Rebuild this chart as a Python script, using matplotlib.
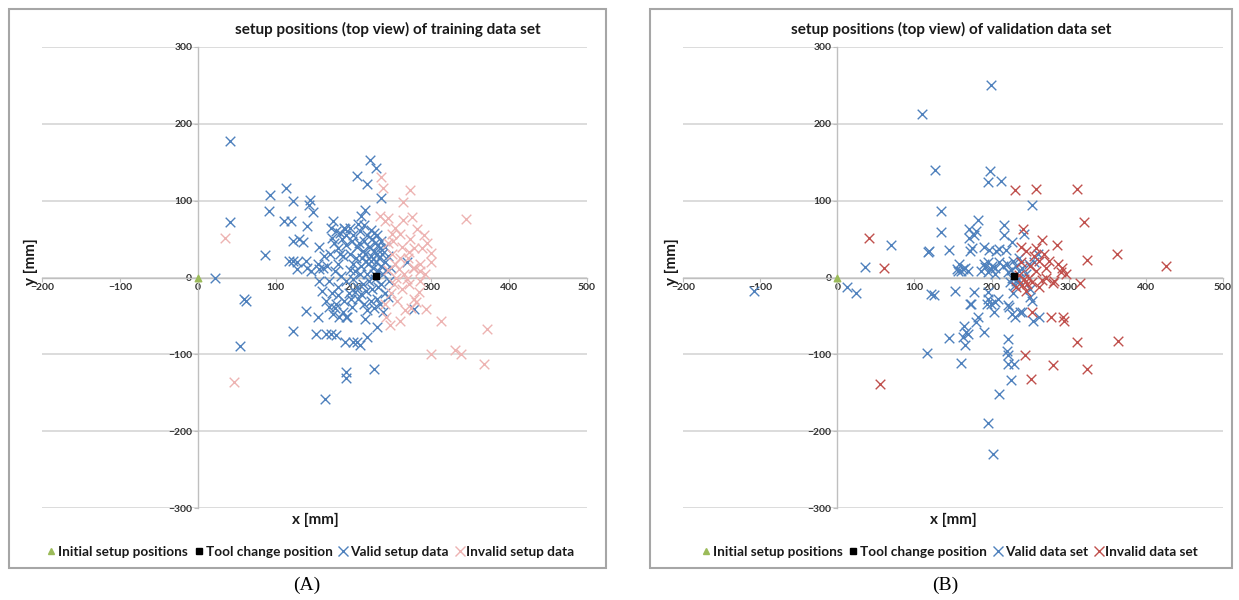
import numpy as np
import matplotlib.pyplot as plt
from matplotlib.lines import Line2D
from matplotlib.patches import Rectangle

plt.rcParams['font.family'] = ['Lato', 'DejaVu Sans']

# ---- data (x, y in mm) ----
initial_pos = [(0, 0)]
tool_change_pos = [(229, 2)]

train_valid = [
    (42, 178), (42, 72), (22, 0), (93, 108), (113, 117), (122, 99), (92, 86), (111, 74),
    (120, 73), (144, 101), (143, 94), (148, 85), (140, 67), (86, 29), (122, 48), (130, 50),
    (135, 46), (156, 40), (117, 22), (122, 22), (128, 20), (139, 22), (141, 13), (155, 18),
    (161, 13), (128, 11), (145, 9), (156, 11), (156, -4), (174, 74), (171, 65), (178, 61),
    (188, 64), (183, 58), (204, 132), (221, 153), (229, 142), (217, 122), (235, 103), (215, 88),
    (210, 80), (189, 63), (269, 20), (59, -28), (62, -30), (54, -89), (139, -44), (123, -70),
    (155, -52), (152, -73), (165, -73), (171, -73), (178, -75), (169, -39), (176, -40),
    (182, -52), (192, -52), (189, -84), (200, -84), (191, -123), (190, -131), (164, -158),
    (180, -23), (197, -28), (202, -19), (191, -52), (215, -54), (230, -65), (204, -84),
    (209, -88), (217, -78), (226, -119), (278, -41),
    (175, 45), (180, 38), (185, 50), (190, 42), (195, 30), (198, 48), (200, 55), (203, 25),
    (205, 40), (208, 60), (210, 15), (212, 35), (214, 48), (216, 22), (218, 5), (220, 40),
    (222, 28), (224, 50), (225, 12), (226, 35), (228, 45), (229, 20), (230, 30), (231, 8),
    (232, 42), (233, 25), (234, 38), (235, 15), (236, 48), (237, 30), (238, 5), (240, 20),
    (241, 40), (242, 10), (244, 28), (218, 55), (222, 62), (214, 68), (206, 70), (196, 64),
    (186, 28), (180, 18), (176, 8), (184, 2), (190, -5), (195, 10), (200, -2), (204, -12),
    (208, 5), (212, -8), (216, -18), (220, -5), (224, -15), (228, -2), (232, -12), (236, -8),
    (240, -20), (230, -28), (222, -30), (214, -35), (206, -28), (198, -38), (188, -30),
    (180, -12), (172, -20), (170, 30), (166, 15), (178, -35), (186, -45), (194, -20), (202, 8),
    (210, -22), (218, -42), (226, -40), (234, -35), (238, -45), (244, -25), (246, -5), (248, 12),
    (226, 58), (230, 55), (215, 30), (219, 18), (223, 22), (227, 5), (211, 25), (207, 45),
    (199, 18), (191, 55), (183, 30), (173, 52), (168, -5), (162, 28), (160, -18), (165, -30),
    (174, -48),
]

train_invalid = [
    (35, 52), (47, -136), (236, 131), (238, 117), (273, 114), (264, 98), (344, 76), (234, 80),
    (245, 78), (240, 74), (264, 75), (275, 79), (282, 63), (290, 55), (254, 65), (249, 57),
    (260, 57), (251, 48), (273, 50), (278, 39), (288, 39), (299, 32), (271, 33), (260, 26),
    (254, 18), (286, 18), (278, 13), (262, -15), (278, -28), (284, -19), (269, -2), (286, 9),
    (277, 13), (258, 11), (252, -8), (293, -41), (313, -56), (260, -56), (247, -62),
    (300, -99), (331, -95), (338, -99), (371, -67), (368, -113), (281, -32), (274, -40),
    (250, 30), (245, 10), (255, 0), (248, -20), (265, 5), (270, 25), (262, 40), (245, 45),
    (256, -30), (240, -35), (266, -42), (242, -52), (272, -8), (292, 5), (285, -5), (300, 20),
    (295, 45),
]

val_valid = [
    (199, 251), (110, 213), (127, 140), (198, 139), (195, 124), (212, 126), (253, 94),
    (134, 86), (135, 59), (70, 42), (36, 14), (117, 33), (119, 35), (145, 36), (182, 75),
    (171, 63), (180, 60), (171, 52), (177, 55), (216, 68), (216, 55), (242, 56), (227, 46),
    (172, 35), (175, 39), (190, 40), (197, 36), (210, 37), (206, 35), (219, 36), (158, 18),
    (160, 9), (166, 13), (155, 11), (199, 11), (195, 7), (204, 5), (186, 9), (169, 9),
    (163, 11), (156, 9), (221, 7), (230, 3), (234, -2), (190, 18), (195, 20), (200, 15),
    (205, 12), (192, 14), (210, 20), (215, 15), (220, 18), (225, 10), (228, 22), (232, 15),
    (226, 0), (224, -6), (230, -10), (236, 8), (240, 12), (235, 25), (12, -12), (24, -20),
    (-108, -17), (122, -21), (126, -23), (153, -18), (177, -19), (172, -35), (195, -19),
    (195, -28), (199, -35), (203, -45), (208, -28), (182, -52), (180, -58), (164, -63),
    (167, -71), (170, -73), (163, -78), (145, -79), (190, -71), (166, -88), (116, -98),
    (160, -111), (221, -36), (227, -47), (230, -52), (240, -45), (250, -26), (254, -56),
    (262, -52), (221, -80), (220, -96), (221, -101), (221, -112), (229, -113), (225, -133),
    (210, -151), (195, -189), (202, -230), (250, -15), (194, -34), (204, -32), (222, -39),
    (237, -45), (173, -35), (252, -30), (228, -20), (232, -5), (245, 5), (255, 20), (260, 30),
    (248, 18),
]

val_invalid = [
    (231, 114), (257, 115), (311, 115), (320, 72), (41, 52), (60, 13), (241, 63), (265, 49),
    (285, 42), (363, 31), (324, 23), (426, 15), (286, 18), (291, 13), (296, 4), (315, -7),
    (280, -7), (236, 3), (242, -2), (248, 0), (246, -8), (252, -6), (281, -5), (290, 7),
    (253, -45), (277, -51), (292, -51), (294, -56), (243, -101), (280, -114), (311, -84),
    (56, -138), (251, -132), (324, -119), (364, -83), (245, 35), (255, 28), (262, 22),
    (268, 30), (250, 15), (238, 20), (258, 8), (270, 12), (240, -10), (265, -3), (232, -12),
    (270, 0), (275, 22), (262, -12), (257, 38), (238, 40), (244, -18),
]

W, H = 1239, 600
BLUE = '#4F81BD'
PINK = '#EDB3B2'
RED = '#C0504D'
GREEN = '#9BBB59'


def fx(px):
    return px / W


def fy(py):
    return 1 - py / H


def draw_panel(fig, box, plot_px, title, title_x, xlab_x, legend_x, valid, invalid,
               inv_color, valid_name, invalid_name, letter, letter_x):
    x0, y0, x1, y1 = box
    fig.add_artist(Rectangle((fx(x0), fy(y1)), fx(x1 - x0), (y1 - y0) / H,
                             transform=fig.transFigure, fill=False,
                             edgecolor='#A6A6A6', lw=1.5))
    l, t, r, b = plot_px
    ax = fig.add_axes([fx(l), fy(b), fx(r - l), (b - t) / H])
    ax.set_xlim(-200, 500)
    ax.set_ylim(-300, 300)
    ax.set_xticks(np.arange(-200, 501, 100))
    ax.set_yticks(np.arange(-300, 301, 100))
    ax.spines['left'].set_position(('data', 0))
    ax.spines['bottom'].set_position(('data', 0))
    for s in ['top', 'right']:
        ax.spines[s].set_visible(False)
    for s in ['left', 'bottom']:
        ax.spines[s].set_color('#BFBFBF')
        ax.spines[s].set_linewidth(1.0)
    ax.yaxis.grid(True, color='#D9D9D9', lw=1.3)
    ax.set_axisbelow(True)
    ax.tick_params(axis='both', labelsize=7.5, colors='#333333', length=3,
                   width=0.8, pad=1)
    ax.tick_params(axis='both', color='#BFBFBF')
    for lab in ax.get_xticklabels() + ax.get_yticklabels():
        lab.set_fontweight('bold')
    ax.patch.set_alpha(0)

    v = np.array(valid)
    iv = np.array(invalid)
    ax.scatter(v[:, 0], v[:, 1], marker='x', s=48, color=BLUE, linewidths=1.0, zorder=3)
    ax.scatter(iv[:, 0], iv[:, 1], marker='x', s=48, color=inv_color, linewidths=1.0, zorder=4)
    ip = np.array(initial_pos)
    tc = np.array(tool_change_pos)
    ax.scatter(ip[:, 0], ip[:, 1], marker='^', s=22, color=GREEN, zorder=5, clip_on=False)
    ax.scatter(tc[:, 0], tc[:, 1], marker='s', s=14, color='black', zorder=5)

    fig.text(fx(title_x), fy(29), title, ha='center', va='center',
             fontsize=11, fontweight='bold', color='#1a1a1a')
    fig.text(fx(xlab_x), fy(520), 'x [mm]', ha='center', va='center',
             fontsize=11, fontweight='bold', color='#1a1a1a')
    fig.text(fx(x0 + 22), fy(262), 'y [mm]', ha='center', va='center', rotation=90,
             fontsize=11, fontweight='bold', color='#1a1a1a')

    handles = [
        Line2D([], [], ls='none', marker='^', color=GREEN, markersize=4.5),
        Line2D([], [], ls='none', marker='s', color='black', markersize=4.5),
        Line2D([], [], ls='none', marker='x', color=BLUE, markersize=7.5, mew=1),
        Line2D([], [], ls='none', marker='x', color=inv_color, markersize=7.5, mew=1),
    ]
    names = ['Initial setup positions', 'Tool change position', valid_name, invalid_name]
    fig.legend(handles, names, loc='center', bbox_to_anchor=(fx(legend_x), fy(552)),
               ncol=4, frameon=False, handlelength=0.6, handletextpad=0.2,
               columnspacing=0.5, prop={'size': 9.8, 'weight': 'bold'},
               labelcolor='#1a1a1a')

    fig.text(fx(letter_x), fy(585), letter, ha='center', va='center',
             fontsize=14, family='Liberation Serif')
    return ax


fig = plt.figure(figsize=(W / 100, H / 100), dpi=100)

draw_panel(fig, (9, 9, 606, 568), (42, 47, 587, 508),
           'setup positions (top view) of training data set', 388, 315, 311,
           train_valid, train_invalid, PINK, 'Valid setup data', 'Invalid setup data',
           '(A)', 307)

draw_panel(fig, (650, 9, 1232, 568), (683, 47, 1223, 508),
           'setup positions (top view) of validation data set', 951, 953, 950,
           val_valid, val_invalid, RED, 'Valid data set', 'Invalid data set',
           '(B)', 945)

fig.savefig('out.png', dpi=100)
